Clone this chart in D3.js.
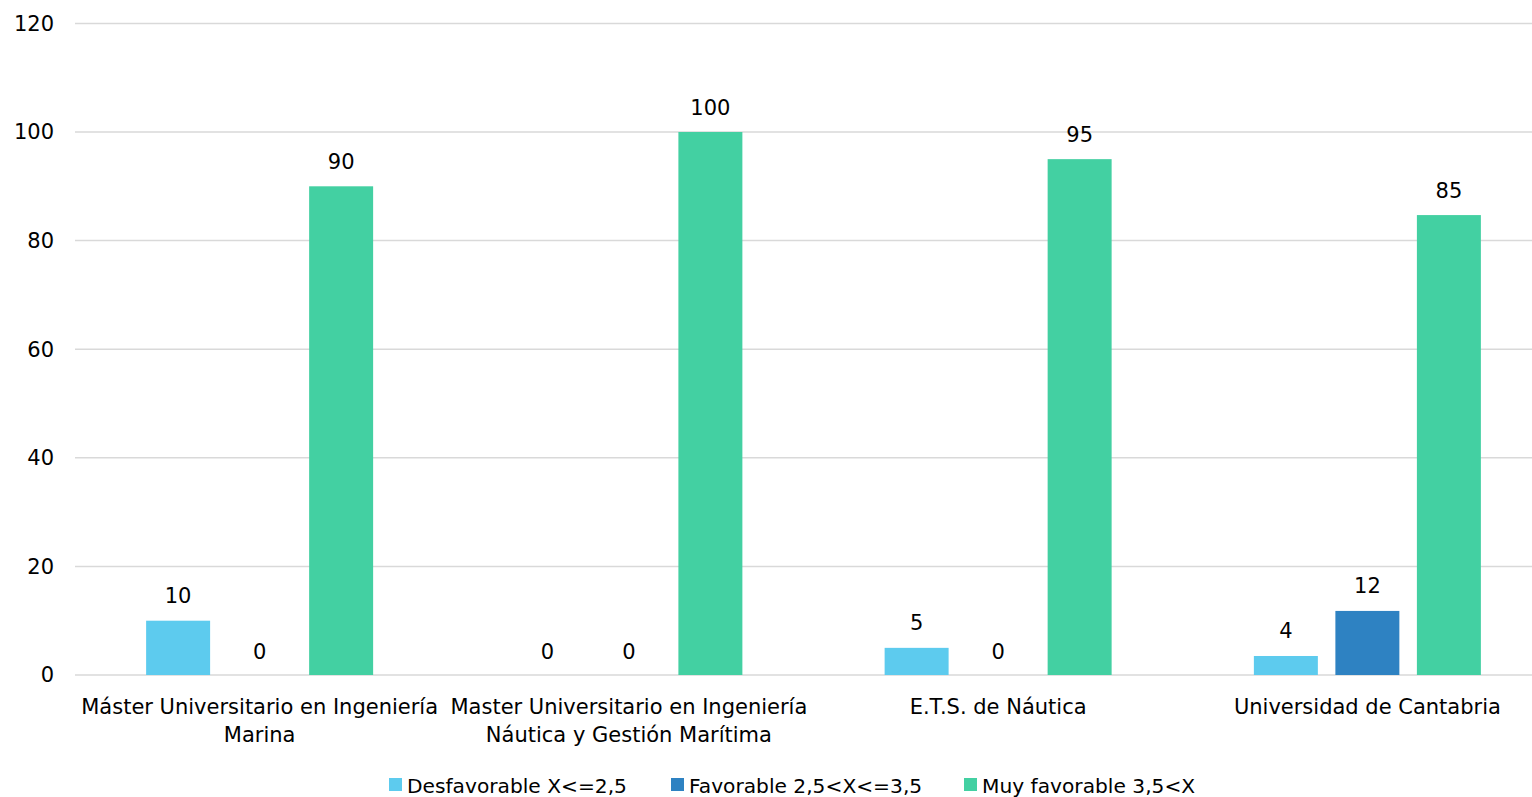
<!DOCTYPE html>
<html><head><meta charset="utf-8">
<script src="https://cdn.jsdelivr.net/npm/d3@7/dist/d3.min.js"></script>
<style>
html,body{margin:0;padding:0;background:#fff;}
svg{display:block;font-family:"DejaVu Sans",sans-serif;}
</style></head>
<body>
<svg id="chart" width="1532" height="797"></svg>
<script>
const categories = [
  "Máster Universitario en Ingeniería Marina",
  "Master Universitario en Ingeniería Náutica y Gestión Marítima",
  "E.T.S. de Náutica",
  "Universidad de Cantabria"
];
const categoryLines = [
  ["Máster Universitario en Ingeniería", "Marina"],
  ["Master Universitario en Ingeniería", "Náutica y Gestión Marítima"],
  ["E.T.S. de Náutica"],
  ["Universidad de Cantabria"]
];
const seriesNames = ["Desfavorable X<=2,5", "Favorable 2,5<X<=3,5", "Muy favorable 3,5<X"];
const seriesColors = ["#5DCBEE", "#2E82C2", "#43D0A2"];
const desfavorable = [10, 0, 5, 3.5];
const favorable = [0, 0, 0, 11.8];
const muyFavorable = [90, 100, 95, 84.7];
const yTicks = [0, 20, 40, 60, 80, 100, 120];

const series = [desfavorable, favorable, muyFavorable];
const svg = d3.select("#chart");
const plotLeft = 75, plotRight = 1552, plotTop = 23.4, plotBottom = 675;
const fs = 21;

const y = d3.scaleLinear().domain([0, 120]).range([plotBottom, plotTop]);
const x0 = d3.scaleBand().domain(categories).range([plotLeft, plotRight]).padding(0);
const x1 = d3.scaleBand().domain(d3.range(3)).range([-113.5, 113.5]).paddingInner(0.215).paddingOuter(0);

// gridlines
svg.append("g").selectAll("line").data(yTicks).join("line")
  .attr("x1", plotLeft).attr("x2", plotRight)
  .attr("y1", d => y(d)).attr("y2", d => y(d))
  .attr("stroke", "#d9d9d9").attr("stroke-width", 1.5);

// y tick labels
svg.append("g").selectAll("text").data(yTicks).join("text")
  .attr("x", 54).attr("y", d => y(d)).attr("dy", "0.35em")
  .attr("text-anchor", "end").attr("font-size", fs).attr("fill", "#000")
  .text(d => d);

// bars
const groups = svg.append("g").selectAll("g").data(categories).join("g")
  .attr("transform", d => `translate(${x0(d) + x0.bandwidth() / 2},0)`);

groups.each(function(cat, ci) {
  const g = d3.select(this);
  series.forEach((s, si) => {
    const v = s[ci];
    if (v > 0) {
      g.append("rect")
        .attr("x", x1(si)).attr("width", x1.bandwidth())
        .attr("y", y(v)).attr("height", y(0) - y(v))
        .attr("fill", seriesColors[si]);
    }
  });
  series.forEach((s, si) => {
    const v = s[ci];
    g.append("text")
      .attr("x", x1(si) + x1.bandwidth() / 2)
      .attr("y", y(v) - (v > 0 ? 17.5 : 16.5))
      .attr("text-anchor", "middle").attr("font-size", fs).attr("fill", "#000")
      .text(d3.format(".0f")(v));
  });
  const t = g.append("text").attr("text-anchor", "middle").attr("font-size", fs).attr("fill", "#000");
  categoryLines[ci].forEach((line, li) => {
    t.append("tspan").attr("x", 0).attr("y", 713.5 + li * 28).text(line);
  });
});

// legend
const legendX = [389, 671, 964];
const leg = svg.append("g").selectAll("g").data(seriesNames).join("g")
  .attr("transform", (d, i) => `translate(${legendX[i]},778)`);
leg.append("rect").attr("width", 13).attr("height", 13).attr("fill", (d, i) => seriesColors[i]);
leg.append("text").attr("x", 18).attr("y", 14.5).attr("font-size", 20.2).attr("fill", "#000").text(d => d);
</script>
</body></html>
